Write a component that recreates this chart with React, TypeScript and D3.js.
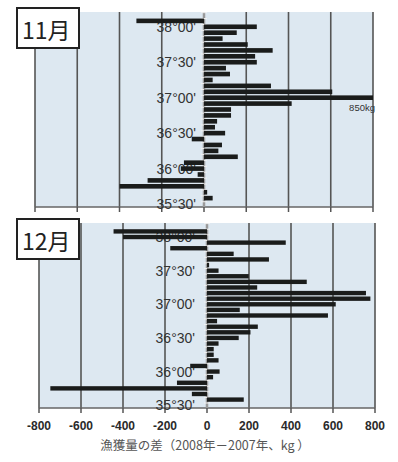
import React from "react";
import * as d3 from "d3";

const latBins = [
  "38°10'", "38°05'", "38°00'", "37°55'", "37°50'", "37°45'", "37°40'", "37°35'",
  "37°30'", "37°25'", "37°20'", "37°15'", "37°10'", "37°05'", "37°00'", "36°55'",
  "36°50'", "36°45'", "36°40'", "36°35'", "36°30'", "36°25'", "36°20'", "36°15'",
  "36°10'", "36°05'", "36°00'", "35°55'", "35°50'", "35°45'", "35°40'", "35°35'", "35°30'",
];
const latTickLabels = ["38°00'", "37°30'", "37°00'", "36°30'", "36°00'", "35°30'"];
const xTicks = [-800, -600, -400, -200, 0, 200, 400, 600, 800];

const novDiff = [0, -320, 250, 155, 88, 207, 325, 242, 250, 104, 123, 41, 317, 607, 850, 415, 128, 128, 62, 52, 100, -58, 85, 68, 160, -95, -110, -30, -267, -400, 15, 41, 0];
const decDiff = [0, -445, -400, 375, -175, 127, 295, 10, 55, 199, 475, 239, 757, 778, 613, 156, 576, 48, 242, 207, 151, 55, 32, 32, 55, -80, 60, 29, -143, -746, -72, 175, 0];

const months = ["11月", "12月"];
const xTitle = "漁獲量の差（2008年－2007年、kg ）";
const capNote = "850kg";

type PanelProps = {
  values: number[];
  month: string;
  top: number;
  bottom: number;
  left: number;
  right: number;
  labelGap: number;
  showNote: boolean;
};

function Panel({ values, month, top, bottom, left, right, labelGap, showNote }: PanelProps) {
  const x = d3.scaleLinear().domain([-800, 800]).range([left, right]).clamp(true);
  const y = d3.scaleBand<string>().domain(latBins).range([top, bottom]).paddingInner(0.22).paddingOuter(0.11);
  const x0 = x(0);
  const step = y.step();
  const maxIdx = values.indexOf(d3.max(values) as number);
  return (
    <g>
      <rect x={left} y={top} width={right - left} height={bottom - top} fill="#dde8f1" />
      {xTicks.filter((t) => t !== 0).map((t) => (
        <line key={t} x1={x(t)} x2={x(t)} y1={top} y2={bottom} stroke="#555" strokeWidth={1.6} />
      ))}
      <line x1={left} x2={right} y1={bottom} y2={bottom} stroke="#666" strokeWidth={1.5} />
      {xTicks.map((t) => (
        <line key={"t" + t} x1={x(t)} x2={x(t)} y1={bottom} y2={bottom + 5} stroke="#555" strokeWidth={1.5} />
      ))}
      {latTickLabels.map((l) => (
        <text
          key={l}
          x={x0 - labelGap}
          y={(y(l) as number) + y.bandwidth() / 2 + 5}
          textAnchor="end"
          fontFamily="Liberation Sans, Arial, sans-serif"
          fontSize={14}
          fill="#333"
        >
          {l}
        </text>
      ))}
      <line x1={x0} x2={x0} y1={top} y2={bottom} stroke="#9a9a9a" strokeWidth={2.5} />
      {latBins.map((b, i) => {
        const yy = top + i * step + step * 0.11;
        return <line key={"c" + b} x1={x0 - 3} x2={x0 + 3} y1={yy} y2={yy} stroke="#f2f2f2" strokeWidth={1} />;
      })}
      {values.map((v, i) => {
        const b = latBins[i];
        if (v === 0) return null;
        const xa = x(Math.min(0, v));
        const xb = x(Math.max(0, v));
        return (
          <rect key={b} x={xa} y={y(b) as number} width={Math.max(0, xb - xa)} height={y.bandwidth()} fill="#1a1c1b" />
        );
      })}
      {showNote && (
        <text
          x={right + 2}
          y={(y(latBins[maxIdx]) as number) + y.bandwidth() + 11}
          textAnchor="end"
          fontFamily="Liberation Sans, Arial, sans-serif"
          fontSize={9.5}
          fill="#333"
        >
          {capNote}
        </text>
      )}
      <rect x={17} y={top - 4} width={62} height={40} fill="#ffffff" stroke="#222" strokeWidth={2} />
      <text x={22} y={top + 27} fontFamily="Noto Sans CJK JP, sans-serif" fontSize={23} fill="#222">
        {month}
      </text>
    </g>
  );
}

export default function App() {
  const xAxis = d3.scaleLinear().domain([-800, 800]).range([39, 375]);
  return (
    <svg width={398} height={462} style={{ position: "absolute", left: 0, top: 0, background: "#ffffff" }}>
      <Panel values={novDiff} month={months[0]} top={12} bottom={207} left={35} right={373} labelGap={8} showNote={true} />
      <Panel values={decDiff} month={months[1]} top={223} bottom={408} left={39} right={375} labelGap={12} showNote={false} />
      {xTicks.map((t) => (
        <text
          key={t}
          x={xAxis(t)}
          y={430}
          textAnchor="middle"
          fontFamily="Liberation Sans, Arial, sans-serif"
          fontSize={12}
          fontWeight="bold"
          fill="#2a2a2a"
        >
          {t}
        </text>
      ))}
      <text x={205} y={450} textAnchor="middle" fontFamily="Noto Sans CJK JP, sans-serif" fontSize={12.5} fill="#555">
        {xTitle}
      </text>
    </svg>
  );
}
